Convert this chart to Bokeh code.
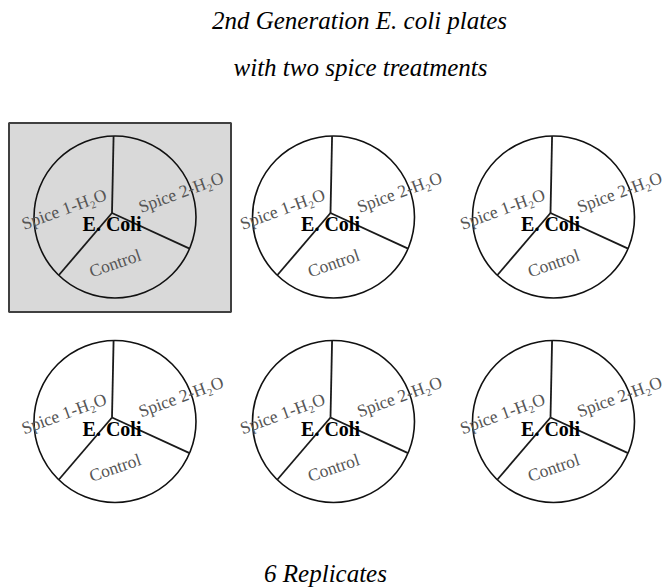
import numpy as np
from bokeh.plotting import figure
from bokeh.models import Range1d
from bokeh.core.properties import value
from bokeh.embed import file_html
from bokeh.resources import INLINE

# ---- data ----
title_lines = ["2nd Generation E. coli plates", "with two spice treatments"]
footer = "6 Replicates"
center_label = "E. Coli"
section_labels = ["Spice 1-H\u2082O", "Spice 2-H\u2082O", "Control"]
plate_rows = [0, 0, 0, 1, 1, 1]
plate_cols = [0, 1, 2, 0, 1, 2]
highlighted = [True, False, False, False, False, False]

# ---- layout (pixel-like coordinates, y downwards) ----
col_x = [114.5, 333.0, 553.0]
row_y = [216.5, 421.0]
R = 81.0
SERIF = "Liberation Serif"

p = figure(width=666, height=588, x_range=Range1d(0, 666), y_range=Range1d(588, 0),
           output_backend="svg", toolbar_location=None, min_border=0,
           x_axis_type=None, y_axis_type=None)
p.grid.visible = False
p.outline_line_color = None
p.background_fill_color = "white"

cx = np.array([col_x[c] for c in plate_cols])
cy = np.array([row_y[r] for r in plate_rows])

# highlighted plate background box
mask = np.array(highlighted)
hx = cx[mask]
hy = cy[mask]
p.quad(left=hx - 106, right=hx + 116, top=hy - 94, bottom=hy + 95,
       fill_color="#d9d9d9", line_color="#404040", line_width=2)

# plate circles
p.circle(x=cx, y=cy, radius=R, fill_color=None, line_color="#111111", line_width=1.6)

# dividing lines
jx = cx - 3
jy = cy - 4
ang = np.deg2rad([-91, 23, 134])
xs, ys = [], []
for i in range(len(cx)):
    for a in ang:
        xs.append([jx[i], cx[i] + R * np.cos(a)])
        ys.append([jy[i], cy[i] + R * np.sin(a)])
p.multi_line(xs=xs, ys=ys, line_color="#1a1a1a", line_width=1.8)

# section labels
offs = [(-51, -8, 20), (66, -25, 20), (0, 46, 19)]
tx, ty, tt, ta = [], [], [], []
for i in range(len(cx)):
    for lab, (dx, dy, deg) in zip(section_labels, offs):
        tx.append(cx[i] + dx)
        ty.append(cy[i] + dy)
        tt.append(lab)
        ta.append(np.deg2rad(deg))
p.text(x=tx, y=ty, text=tt, angle=ta, text_font=value(SERIF), text_font_size="17.5px",
       text_color="#555555", text_align="center", text_baseline="middle")

# center labels
p.text(x=cx - 3, y=cy + 7, text=[center_label] * len(cx), text_font=value(SERIF),
       text_font_size="20px", text_font_style="bold", text_color="#000000",
       text_align="center", text_baseline="middle")

# titles
p.text(x=[359, 360], y=[20, 67], text=title_lines, text_font=value(SERIF),
       text_font_size="25px", text_font_style="italic", text_color="#000000",
       text_align="center", text_baseline="middle")
p.text(x=[325], y=[573], text=[footer], text_font=value(SERIF),
       text_font_size="25px", text_font_style="italic", text_color="#000000",
       text_align="center", text_baseline="middle")

open("out.html", "w").write(file_html(p, INLINE))
